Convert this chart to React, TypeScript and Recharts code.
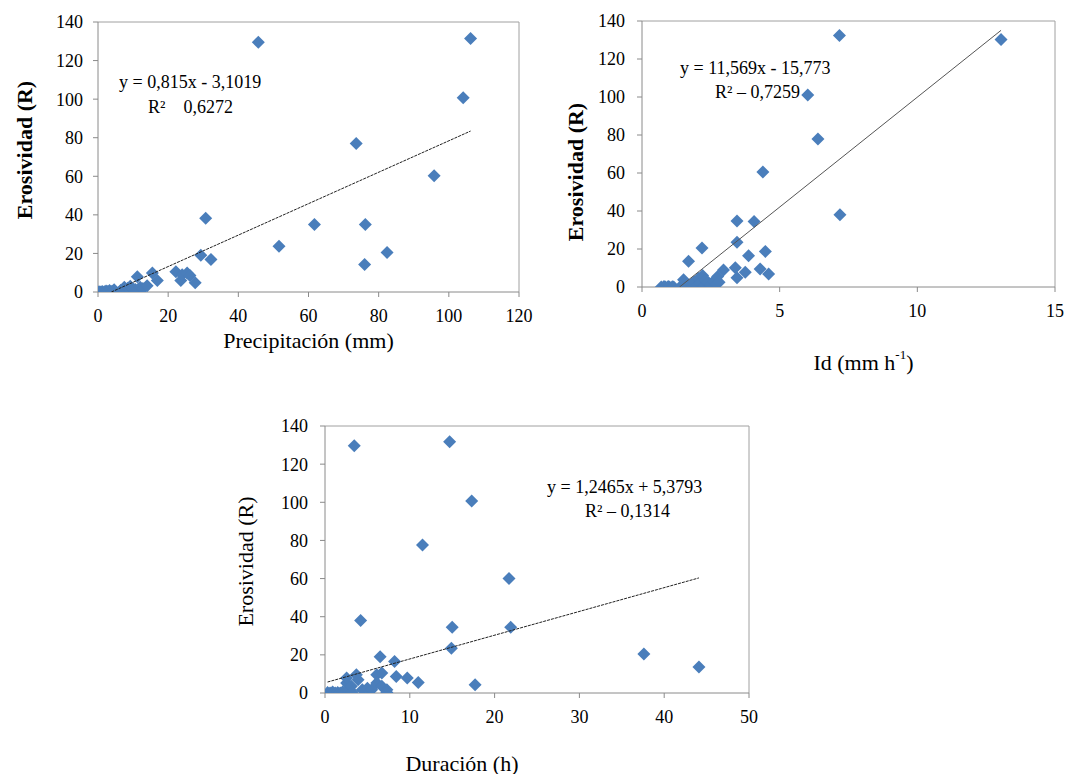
import React from 'react';
import { ScatterChart, Scatter, XAxis, YAxis, ZAxis, ReferenceLine, Label } from 'recharts';

// Precipitación (mm) vs Erosividad (R)
const precipX = [0.3, 0.8, 1.2, 1.8, 2.3, 2.8, 3.3, 4, 4.6, 6.5, 7.5, 8.5, 9.2, 10, 10.6, 11.2, 12, 12.8, 14, 15.5, 16.9, 22.2, 23.6, 24, 25.4, 26.2, 27.7, 29.3, 30.7, 32.2, 45.7, 51.6, 61.7, 73.6, 76, 76.2, 82.4, 95.8, 104.1, 106.2];
const precipR = [0.1, 0, 0.3, 0.1, 0.5, 0.2, 0.8, 0.4, 1.2, 0.9, 2.4, 2.0, 3.0, 1.5, 1.3, 7.9, 2.5, 1.8, 3.2, 9.8, 6, 10.5, 6, 9, 9.8, 8.5, 4.8, 19, 38.2, 16.9, 129.5, 23.7, 35, 77, 14.3, 35, 20.5, 60.3, 100.7, 131.5];

// Id (mm h-1) vs Erosividad (R)
const idX = [0.7, 0.8, 0.85, 0.95, 1.0, 1.1, 1.15, 1.4, 1.51, 1.6, 1.69, 1.8, 1.9, 2.0, 2.05, 2.1, 2.18, 2.2, 2.25, 2.3, 2.4, 2.5, 2.6, 2.7, 2.75, 2.8, 2.96, 3.39, 3.45, 3.45, 3.45, 3.75, 3.87, 4.07, 4.29, 4.39, 4.48, 4.6, 6.02, 6.39, 7.17, 7.19, 13.04];
const idR = [0, 0.2, 0, 0.3, 0, 0.1, 0, 0.3, 3.8, 0.5, 13.5, 1.5, 2.8, 0.8, 4.5, 2, 20.5, 6, 0.5, 3.5, 2.5, 1.2, 3, 1.5, 5.5, 2.5, 9, 10.1, 4.9, 23.5, 34.7, 7.7, 16.5, 34.5, 9.5, 60.5, 18.7, 6.8, 101, 77.9, 132.4, 38, 130.2];

// Duración (h) vs Erosividad (R)
const durX = [0.3, 0.6, 0.9, 1.2, 1.5, 1.8, 2.1, 2.4, 2.55, 2.55, 2.8, 3.1, 3.2, 3.45, 3.7, 3.9, 4.2, 4.4, 5.0, 5.5, 6.1, 6.1, 6.5, 6.7, 6.7, 7.3, 7.3, 8.2, 8.4, 9.7, 11, 11.5, 14.7, 14.9, 15, 17.3, 17.7, 21.7, 21.9, 37.6, 44.1];
const durR = [0.2, 0, 0.5, 0, 0.3, 0, 0.6, 0.1, 5.2, 7.8, 1.2, 3.5, 0.5, 129.7, 9.6, 7, 38, 1.7, 2.5, 1.7, 9.6, 5.2, 19, 10.5, 3.5, 1.7, 0.2, 16.5, 8.7, 7.8, 5.5, 77.6, 131.8, 23.5, 34.5, 100.7, 4.3, 60, 34.5, 20.4, 13.6];

const rTicks = [0, 20, 40, 60, 80, 100, 120, 140];
const precipTicks = [0, 20, 40, 60, 80, 100, 120];
const idTicks = [0, 5, 10, 15];
const durTicks = [0, 10, 20, 30, 40, 50];

const SERIF = '"Liberation Serif", "Times New Roman", serif';
const BLUE = '#4a7ebb';
const AXIS = '#8a8a8a';

const zip = (xs: number[], ys: number[]) => xs.map((x, i) => ({ x, y: ys[i] }));

// linear trendline over the data range, cut where it drops below zero
const trend = (xs: number[], a: number, b: number) => {
  let x0 = Math.min(...xs);
  if (a * x0 + b < 0) x0 = -b / a;
  const x1 = Math.max(...xs);
  return [{ x: x0, y: a * x0 + b }, { x: x1, y: a * x1 + b }];
};

const tickStyle = { fill: '#000', fontSize: 18, fontFamily: SERIF };

// Excel-style square diamond marker
const Diamond = (props: any) => {
  const { cx, cy } = props;
  const r = 6.5;
  return <polygon points={`${cx},${cy - r} ${cx + r},${cy} ${cx},${cy + r} ${cx - r},${cy}`} fill={BLUE} />;
};

const yTitle = (text: string, dx: number, dy: number, bold: boolean) => (props: any) => {
  const vb = props.viewBox;
  const cx = vb.x + dx;
  const cy = vb.y + vb.height / 2 + dy;
  return (
    <text x={cx} y={cy} transform={`rotate(-90 ${cx} ${cy})`} textAnchor="middle" dominantBaseline="central"
      fontFamily={SERIF} fontSize={22} fontWeight={bold ? 'bold' : 'normal'} fill="#000">
      {text}
    </text>
  );
};

const xTitle = (text: string, dx: number, dy: number, sup?: string) => (props: any) => {
  const vb = props.viewBox;
  return (
    <text x={vb.x + vb.width / 2 + dx} y={vb.y + dy} textAnchor="middle" dominantBaseline="central"
      fontFamily={SERIF} fontSize={22} fill="#000">
      <tspan>{text}</tspan>
      {sup && <tspan dy={-8} fontSize={13}>{sup}</tspan>}
      {sup && <tspan dy={8}>)</tspan>}
    </text>
  );
};

const noShape = () => <g />;

interface PanelProps {
  left: number; top: number; width: number; height: number;
  margin: { top: number; right: number; left: number; bottom: number };
  yWidth: number; yTickMargin: number; xHeight: number;
  xs: number[]; ys: number[]; a: number; b: number;
  xMax: number; xTicks: number[];
  xLabel: any; yLabel: any; dashed: boolean;
}

const Panel: React.FC<PanelProps> = (p) => (
  <div style={{ position: 'absolute', left: p.left, top: p.top }}>
    <ScatterChart width={p.width} height={p.height} margin={p.margin}>
      <XAxis type="number" dataKey="x" domain={[0, p.xMax]} ticks={p.xTicks} interval={0}
        stroke={AXIS} tickSize={5} tickMargin={12} tick={tickStyle} height={p.xHeight}
        allowDataOverflow>
        <Label content={p.xLabel} />
      </XAxis>
      <YAxis type="number" dataKey="y" domain={[0, 140]} ticks={rTicks} interval={0}
        stroke={AXIS} tickSize={5} tickMargin={p.yTickMargin} tick={tickStyle} width={p.yWidth}
        allowDataOverflow>
        <Label content={p.yLabel} />
      </YAxis>
      <ZAxis range={[70, 70]} />
      <ReferenceLine y={140} stroke="#a0a0a0" />
      <ReferenceLine x={p.xMax} stroke="#a0a0a0" />
      <Scatter data={zip(p.xs, p.ys)} fill={BLUE} shape={Diamond} isAnimationActive={false} />
      <Scatter data={trend(p.xs, p.a, p.b)} shape={noShape} isAnimationActive={false}
        line={{ stroke: p.dashed ? '#222' : '#555', strokeWidth: 1, strokeDasharray: p.dashed ? '3 1' : undefined }} />
    </ScatterChart>
  </div>
);

const eqStyle: React.CSSProperties = {
  position: 'absolute', fontFamily: SERIF, fontSize: 18, lineHeight: '20px', whiteSpace: 'pre', color: '#000',
};

export default function App() {
  return (
    <div style={{ position: 'absolute', left: 0, top: 0, width: 1066, height: 774, background: '#fff' }}>
      <Panel left={0} top={0} width={540} height={380}
        margin={{ top: 22, right: 21, left: 0, bottom: 0 }}
        yWidth={98} yTickMargin={10} xHeight={88}
        xs={precipX} ys={precipR} a={0.815} b={-3.1019}
        xMax={120} xTicks={precipTicks} dashed
        xLabel={xTitle('Precipitación  (mm)', 0, 48)}
        yLabel={yTitle('Erosividad (R)', 24, -7, true)} />
      <Panel left={560} top={0} width={506} height={380}
        margin={{ top: 21, right: 11, left: 0, bottom: 0 }}
        yWidth={82} yTickMargin={12} xHeight={93}
        xs={idX} ys={idR} a={11.569} b={-15.773}
        xMax={15} xTicks={idTicks} dashed={false}
        xLabel={xTitle('Id (mm h', 15, 75, '-1')}
        yLabel={yTitle('Erosividad (R)', 15, 18, true)} />
      <Panel left={230} top={400} width={540} height={374}
        margin={{ top: 26, right: 21, left: 0, bottom: 0 }}
        yWidth={95} yTickMargin={12} xHeight={81}
        xs={durX} ys={durR} a={1.2465} b={5.3793}
        xMax={50} xTicks={durTicks} dashed
        xLabel={xTitle('Duración  (h)', -75, 70)}
        yLabel={yTitle('Erosividad (R)', 15, 2, false)} />

      <div style={{ ...eqStyle, left: 119, top: 72 }}>y = 0,815x - 3,1019</div>
      <div style={{ ...eqStyle, left: 148, top: 97 }}>{'R²    0,6272'}</div>
      <div style={{ ...eqStyle, left: 680, top: 58 }}>y = 11,569x - 15,773</div>
      <div style={{ ...eqStyle, left: 715, top: 82 }}>R² – 0,7259</div>
      <div style={{ ...eqStyle, left: 547, top: 477 }}>y = 1,2465x + 5,3793</div>
      <div style={{ ...eqStyle, left: 585, top: 501 }}>R² – 0,1314</div>
    </div>
  );
}
